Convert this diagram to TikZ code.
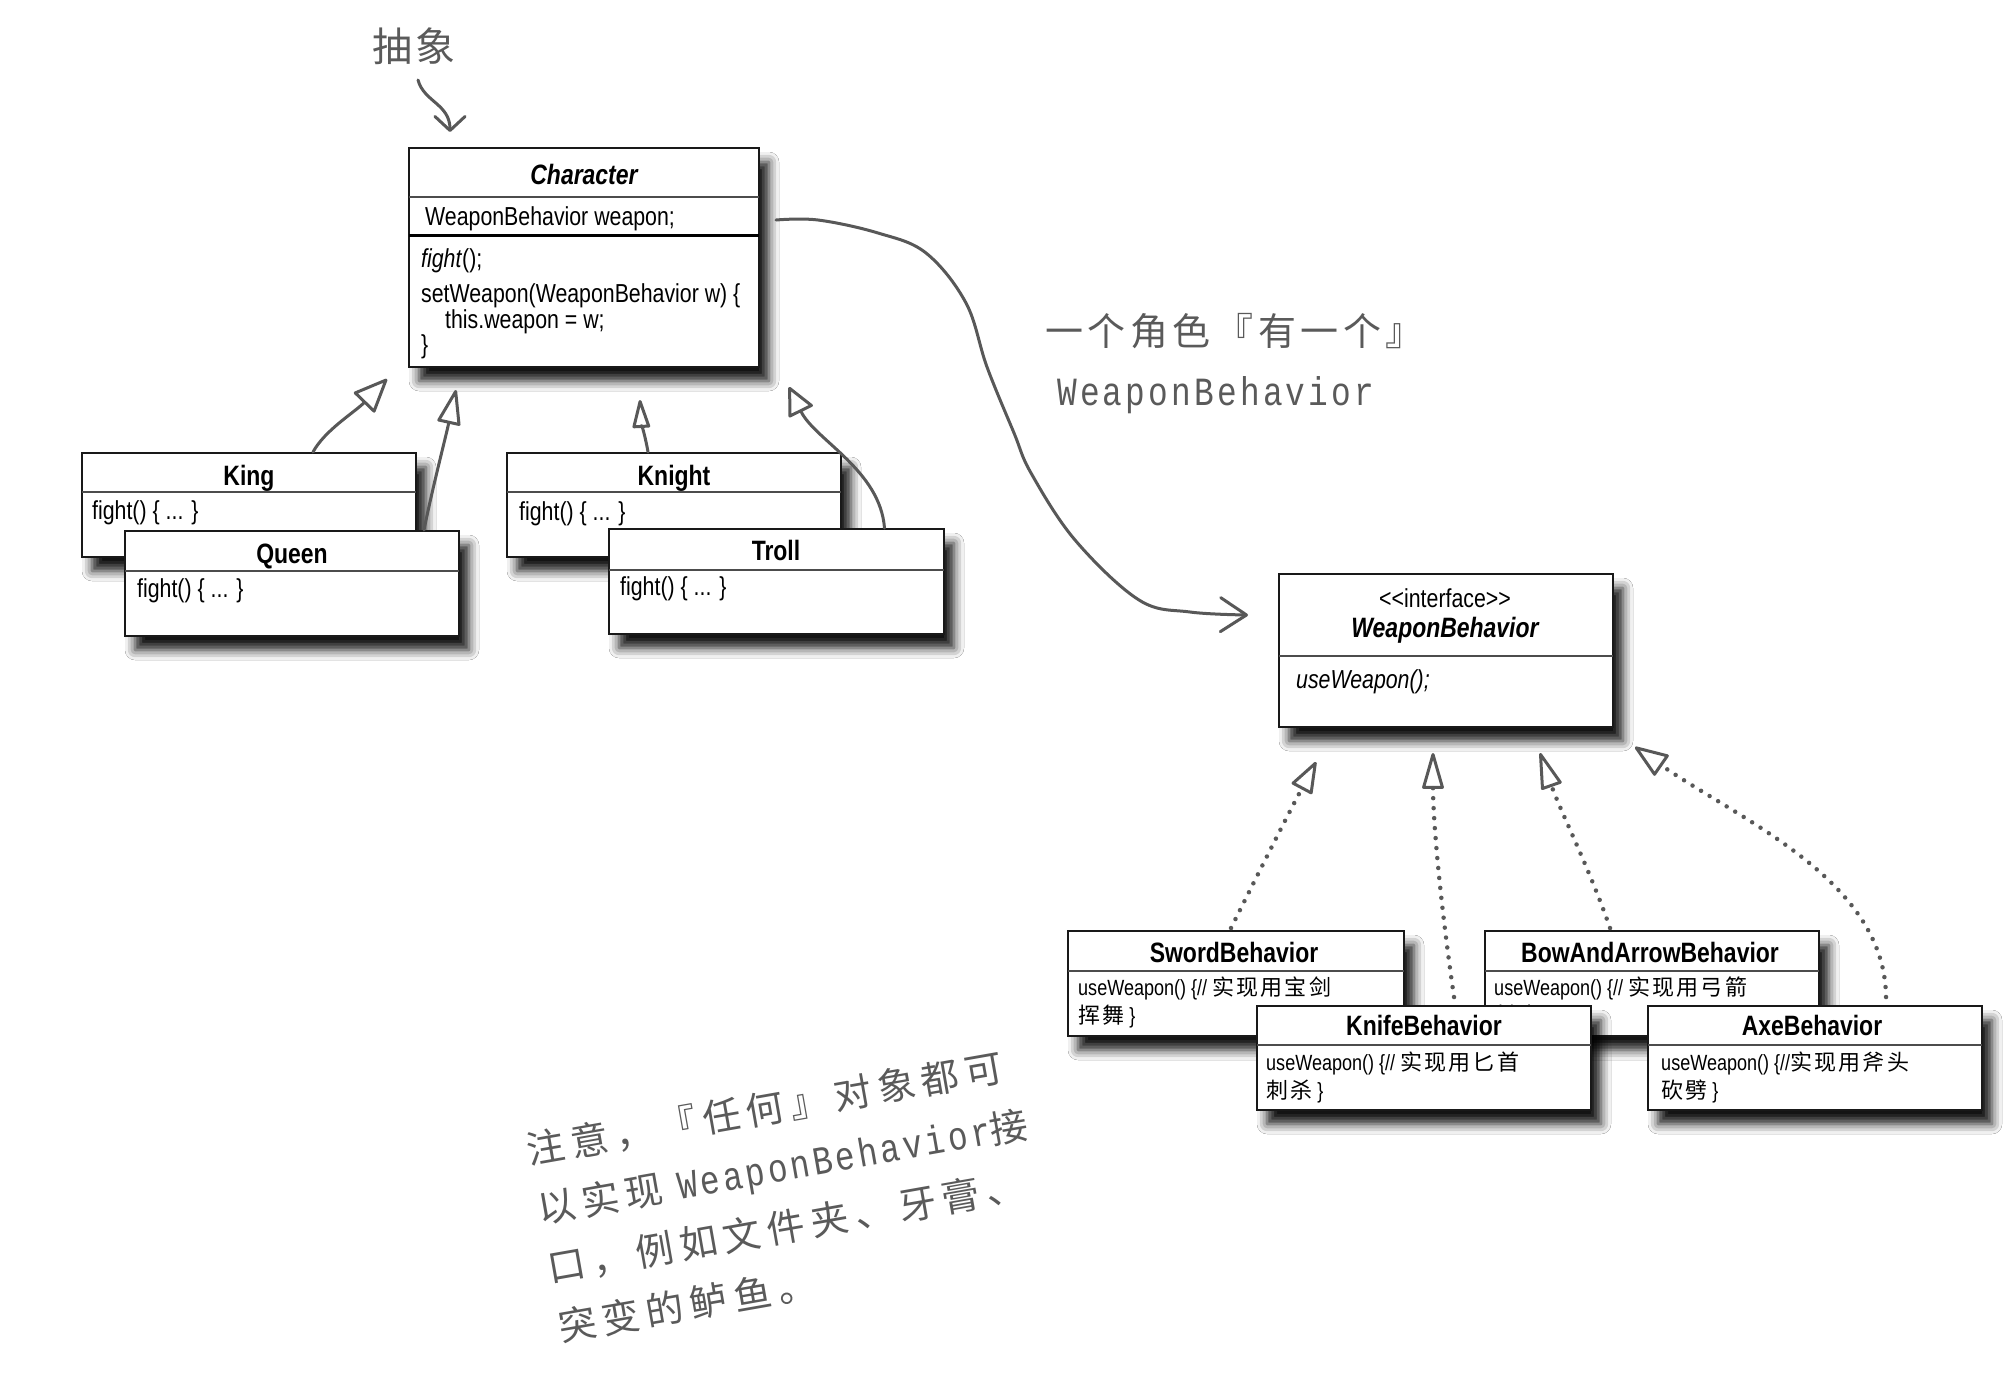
\documentclass[tikz,border=0pt]{standalone}
\usepackage{fontspec}
\setmainfont{Liberation Sans}
\newfontfamily\nar[FakeStretch=0.82]{Liberation Sans}
\newfontfamily\cjknote[LetterSpace=17]{Noto Sans CJK SC}
\newfontfamily\cjklabel[LetterSpace=12]{Noto Sans CJK SC}
\newfontfamily\cjkbox[LetterSpace=10]{Noto Sans CJK SC}
\newfontfamily\cjkabs[LetterSpace=8]{Noto Sans CJK SC}
\newfontfamily\monoft[FakeStretch=0.82,LetterSpace=8]{Liberation Mono}
\usetikzlibrary{arrows.meta,shadows.blur}
\definecolor{ink}{HTML}{585858}
\definecolor{notec}{HTML}{5A5A5A}
\tikzset{
  umlbox/.style={draw=black!90, line width=2pt, fill=white, inner sep=0pt,
    blur shadow={shadow xshift=10pt, shadow yshift=-14pt, shadow blur radius=10pt, shadow opacity=92}},
  divthin/.style={draw=black!70, line width=1.5pt},
  divthick/.style={draw=black, line width=3pt},
  ttl/.style={font=\nar\bfseries\fontsize{28}{32}\selectfont, anchor=base, inner sep=0pt},
  ttlit/.style={ttl, font=\nar\bfseries\itshape\fontsize{28}{32}\selectfont},
  txt/.style={font=\nar\fontsize{26}{30}\selectfont, anchor=base west, inner sep=0pt},
  stxt/.style={font=\nar\fontsize{22}{28}\selectfont, anchor=base west, inner sep=0pt},
  hand/.style={draw=ink, line width=3pt, line cap=round, line join=round},
  inh/.style 2 args={hand, -{Triangle[open, length=#1, width=#2, round]}},
  real/.style 2 args={draw=ink, line width=4.5pt, line cap=round, dash pattern=on 0pt off 10pt,
    -{Triangle[open, length=#1, width=#2, line width=3pt, round]}},
  assoc/.style={hand, -{Straight Barb[length=26pt, width=34pt, round]}},
  gtext/.style={text=notec, inner sep=0pt},
}
\begin{document}
\begin{tikzpicture}[x=1pt,y=-1pt]
\fill[white] (0,0) rectangle (2012,1398);
\useasboundingbox (0,0) rectangle (2012,1398);

% ---------- Character ----------
\node[umlbox, minimum width=350pt, minimum height=219pt] (char) at (584,257.5) {};
\draw[divthin] (409,197) -- (759,197);
\draw[divthick] (409,235) -- (759,235);
\node[ttlit] (charT) at (584,184) {Character};
\node[txt] (charA) at (425,225) {WeaponBehavior weapon;};
\node[txt] (charM1) at (421,267) {\textit{fight}();};
\node[txt] (charM2) at (421,302) {setWeapon(WeaponBehavior w) \{};
\node[txt] (charM3) at (445,328) {this.weapon = w;};
\node[txt] (charM4) at (421,353) {\}};

% ---------- King / Queen ----------
\node[umlbox, minimum width=334pt, minimum height=104pt] (king) at (249,505) {};
\draw[divthin] (82,492) -- (416,492);
\node[ttl] (kingT) at (249,485) {King};
\node[txt] (kingM) at (92,519) {fight() \{ ... \}};

\node[umlbox, minimum width=334pt, minimum height=105pt] (queen) at (292,583.5) {};
\draw[divthin] (125,571) -- (459,571);
\node[ttl] (queenT) at (292,563) {Queen};
\node[txt] (queenM) at (137,597) {fight() \{ ... \}};

% ---------- Knight / Troll ----------
\node[umlbox, minimum width=334pt, minimum height=104pt] (knight) at (674,505) {};
\draw[divthin] (507,492) -- (841,492);
\node[ttl] (knightT) at (674,485) {Knight};
\node[txt] (knightM) at (519,520) {fight() \{ ... \}};

\node[umlbox, minimum width=335pt, minimum height=105pt] (troll) at (776.5,581.5) {};
\draw[divthin] (609,570) -- (944,570);
\node[ttl] (trollT) at (776,560) {Troll};
\node[txt] (trollM) at (620,595) {fight() \{ ... \}};

% ---------- Interface ----------
\node[umlbox, minimum width=334pt, minimum height=153pt] (iface) at (1446,650.5) {};
\draw[divthin] (1279,656) -- (1613,656);
\node[txt, anchor=base] (ifaceS) at (1445,607) {<\kern0pt<interface>\kern0pt>};
\node[ttlit] (ifaceT) at (1445,637) {WeaponBehavior};
\node[txt, font=\nar\itshape\fontsize{26}{30}\selectfont] (ifaceM) at (1296,688) {useWeapon();};

% ---------- Behaviours ----------
\node[umlbox, minimum width=336pt, minimum height=105pt] (sword) at (1236,983.5) {};
\draw[divthin] (1068,971) -- (1404,971);
\node[ttl] (swordT) at (1234,962) {SwordBehavior};
\node[stxt] (swordM1) at (1078,995) {useWeapon() \{// {\cjkbox 实现用宝剑}};
\node[stxt] (swordM2) at (1078,1023) {{\cjkbox 挥舞} \}};

\node[umlbox, minimum width=334pt, minimum height=105pt] (bow) at (1652,983.5) {};
\draw[divthin] (1485,971) -- (1819,971);
\node[ttl] (bowT) at (1650,962) {BowAndArrowBehavior};
\node[stxt] (bowM1) at (1494,995) {useWeapon() \{// {\cjkbox 实现用弓箭}};
\node[stxt] (bowM2) at (1494,1023) {{\cjkbox 射击} \}};

\node[umlbox, minimum width=334pt, minimum height=104pt] (knife) at (1424,1058) {};
\draw[divthin] (1257,1045) -- (1591,1045);
\node[ttl] (knifeT) at (1424,1035) {KnifeBehavior};
\node[stxt] (knifeM1) at (1266,1070) {useWeapon() \{// {\cjkbox 实现用匕首}};
\node[stxt] (knifeM2) at (1266,1098) {{\cjkbox 刺杀} \}};

\node[umlbox, minimum width=334pt, minimum height=104pt] (axe) at (1815,1058) {};
\draw[divthin] (1648,1045) -- (1982,1045);
\node[ttl] (axeT) at (1812,1035) {AxeBehavior};
\node[stxt] (axeM1) at (1661,1070) {useWeapon() \{//{\cjkbox 实现用斧头}};
\node[stxt] (axeM2) at (1661,1098) {{\cjkbox 砍劈} \}};

% ---------- annotations ----------
\node[gtext, font=\cjkabs\fontsize{40}{44}\selectfont, anchor=west] (abs) at (372,46) {抽象};
\node[gtext, font=\cjklabel\fontsize{38}{42}\selectfont, anchor=west] (hasa) at (1045,331) {一个角色『有一个』};
\node[gtext, font=\monoft\fontsize{40}{44}\selectfont, anchor=base west] (hasaB) at (1057,405) {WeaponBehavior};
\node[gtext, font=\cjknote\fontsize{38}{60}\selectfont, align=left, anchor=base west, rotate=10] (note) at (561,1342)
  {注意，『任何』对象都可\\以实现 {\monoft\fontsize{40}{60}\selectfont WeaponBehavior}接\\口，例如文件夹、牙膏、\\突变的鲈鱼。};

% ---------- connector end points ----------
\coordinate (absS) at (418,80);
\coordinate (absTip) at (450,132);
\coordinate (kingTip) at (387,379);
\coordinate (queenTip) at (456,390);
\coordinate (knightTip) at (640,400);
\coordinate (trollTip) at (789,387);
\coordinate (assocS) at ([xshift=16pt,yshift=37.5pt]char.east);
\coordinate (assocTip) at ([xshift=-30pt,yshift=35.5pt]iface.west);
\coordinate (swordTip) at (1316,762);
\coordinate (knifeTip) at (1433,753);
\coordinate (bowTip) at (1540,753);
\coordinate (axeTip) at (1635,747);

% ---------- connectors ----------
\draw[hand, -{Straight Barb[length=14pt, width=30pt, round]}] (absS) .. controls (424,102) and (450,104) .. (absTip);

\draw[inh={36pt}{30pt}] ([xshift=64pt]king.north) .. controls (325,430) and (355,412) .. (kingTip);
\draw[inh={38pt}{24pt}] ([xshift=132pt]queen.north) .. controls (432,490) and (445,440) .. (queenTip);
\draw[inh={32pt}{18pt}] ([xshift=-26pt]knight.north) .. controls (646,440) and (641,420) .. (knightTip);
\draw[inh={30pt}{28pt}] ([xshift=108pt]troll.north) .. controls (880,470) and (815,440) .. (trollTip);

\draw[assoc] plot[smooth, tension=0.6] coordinates {(assocS) (818,220) (878,233) (926,253) (966,303) (987,367) (1014,433) (1031,473) (1075,540) (1139,600) (1190,612) (assocTip)};

\draw[real={34pt}{24pt}] ([xshift=-5pt,yshift=2pt]sword.north) .. controls (1255,880) and (1285,820) .. (swordTip);
\draw[real={40pt}{22pt}] ([xshift=30pt,yshift=8pt]knife.north) .. controls (1440,900) and (1433,820) .. (knifeTip);
\draw[real={40pt}{22pt}] ([xshift=-42pt,yshift=2pt]bow.north) .. controls (1590,870) and (1560,810) .. (bowTip);
\draw[real={36pt}{26pt}] ([xshift=71pt,yshift=8pt]axe.north) .. controls (1885,880) and (1740,820) .. (axeTip);
\end{tikzpicture}
\end{document}
